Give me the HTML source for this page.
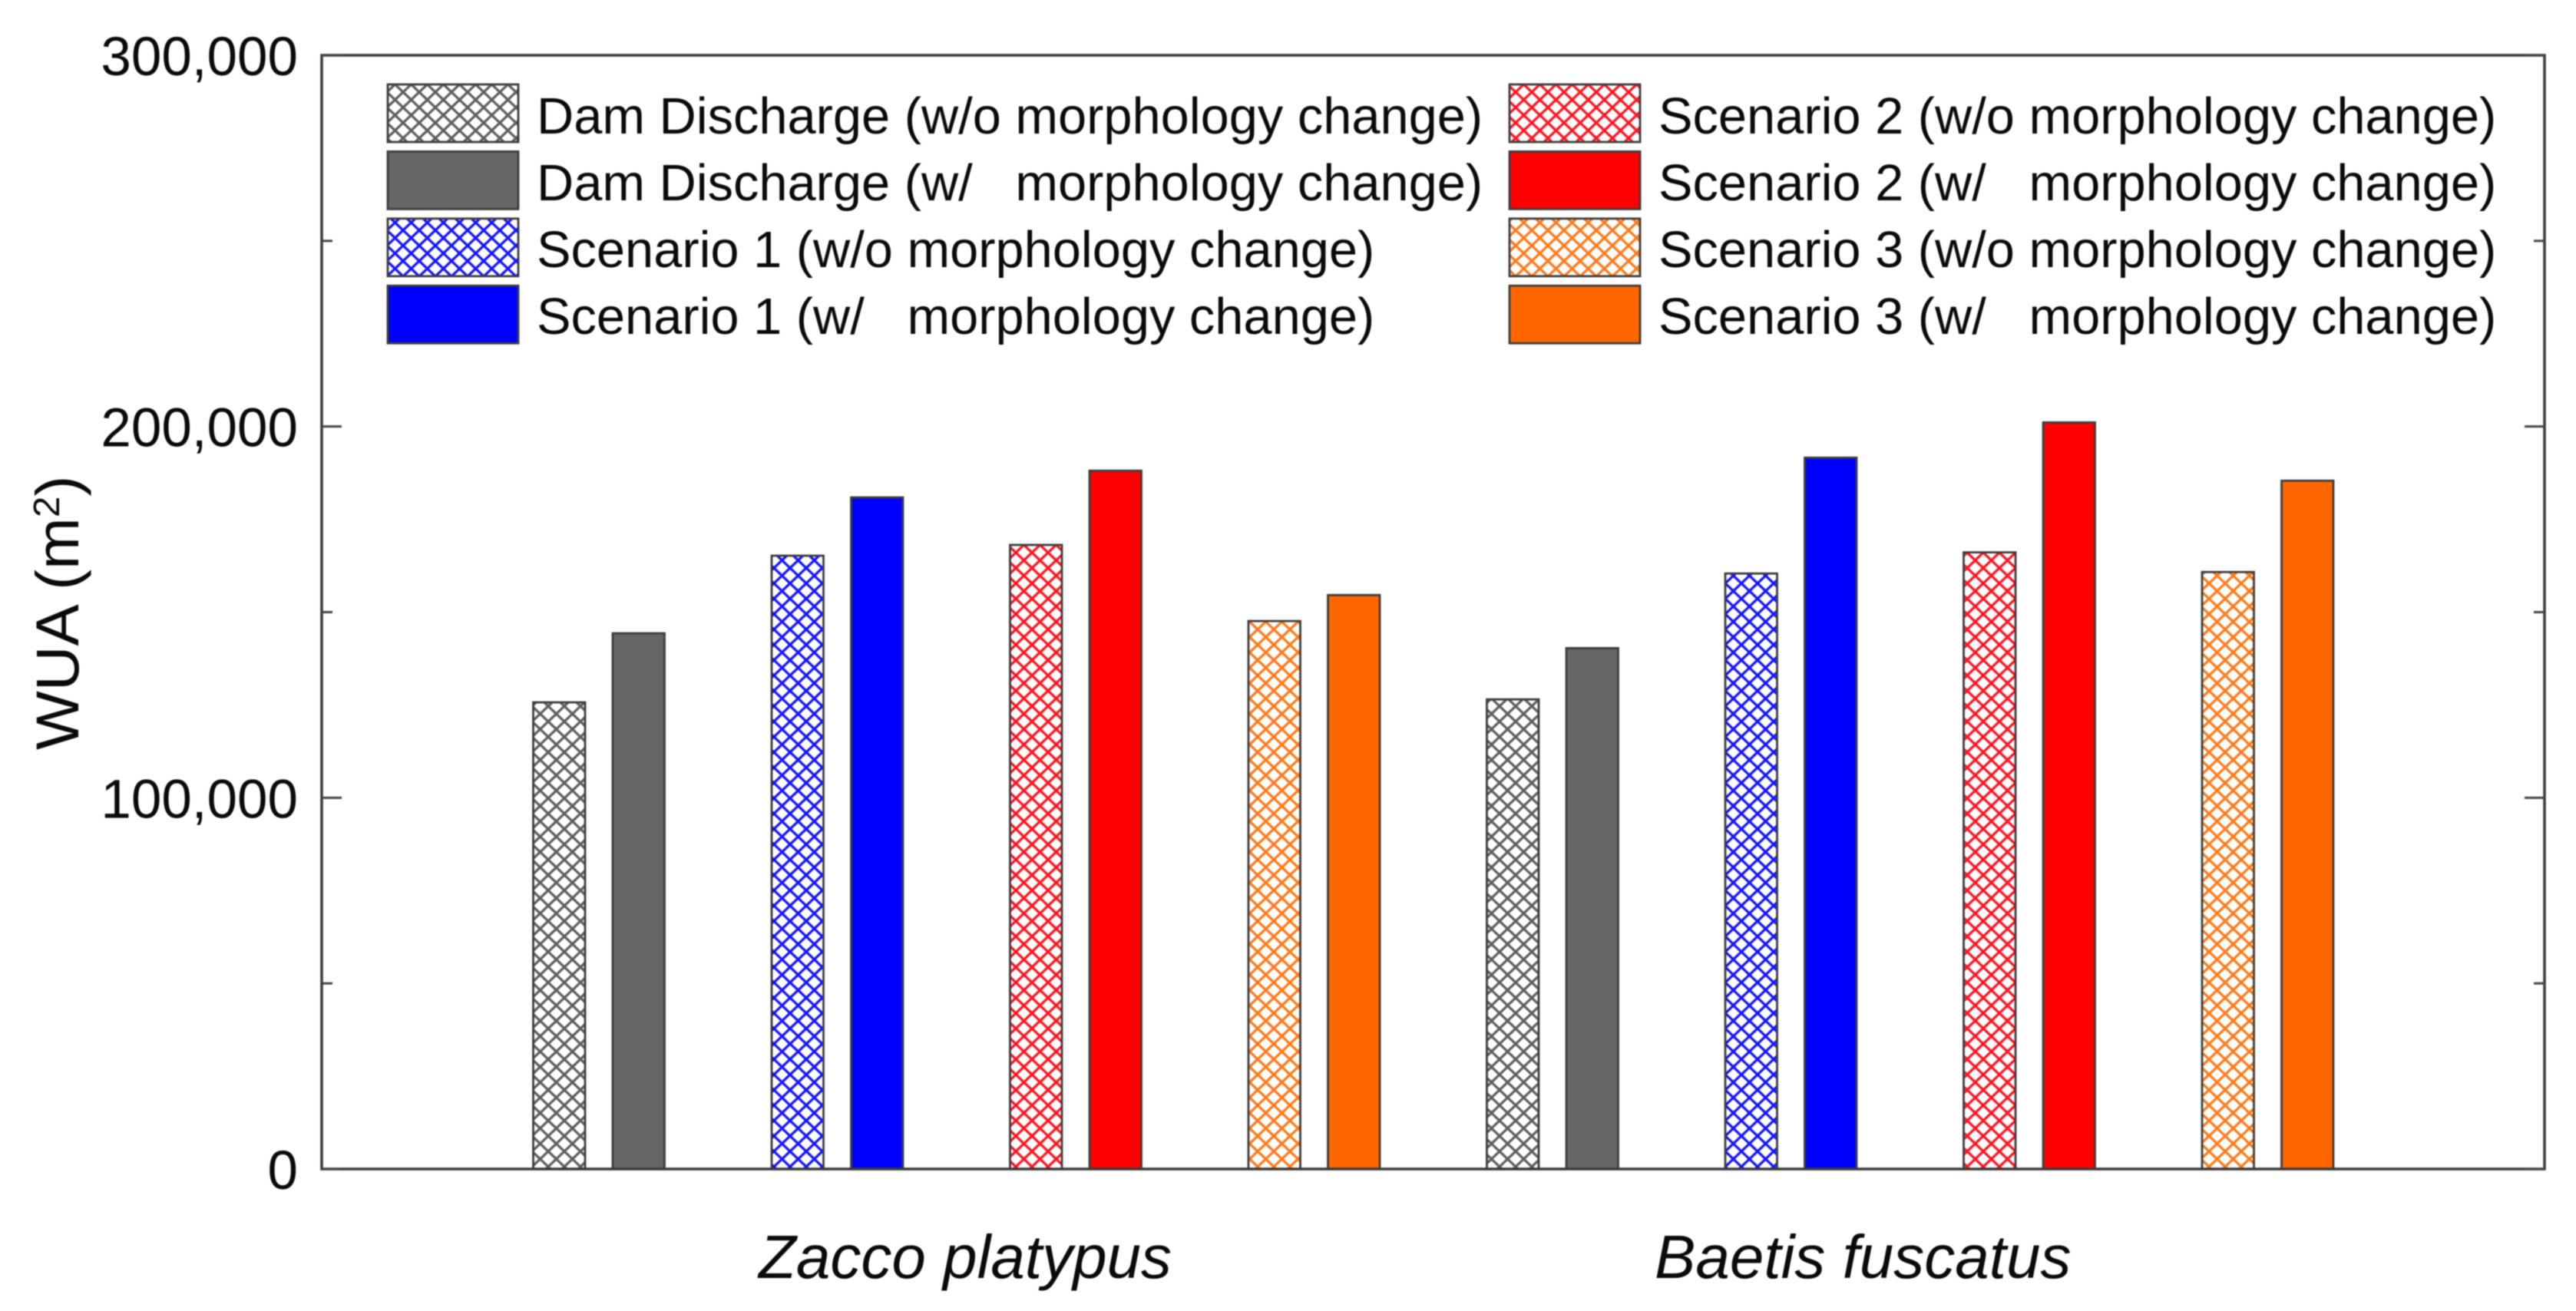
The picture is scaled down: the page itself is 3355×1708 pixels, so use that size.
<!DOCTYPE html>
<html lang="en">
<head>
<meta charset="utf-8">
<title>WUA by scenario</title>
<style>
html,body{margin:0;padding:0;background:#fff;width:3355px;height:1708px;overflow:hidden}
svg{display:block;filter:blur(0.9px)}
text{font-family:"Liberation Sans",Arial,sans-serif;fill:#0a0a0a;white-space:pre}
</style>
</head>
<body>
<svg id="chart" xmlns="http://www.w3.org/2000/svg" width="3355" height="1708" viewBox="0 0 3355 1708">
  <defs>
    <pattern id="hatch-gray" patternUnits="userSpaceOnUse" width="21" height="20"><rect width="21" height="20" fill="#fff"/><path d="M0 0L21 20M21 0L0 20" stroke="#5f5f5f" stroke-width="3.3"/></pattern>
    <pattern id="hatch-blue" patternUnits="userSpaceOnUse" width="21" height="20"><rect width="21" height="20" fill="#fff"/><path d="M0 0L21 20M21 0L0 20" stroke="#1414ff" stroke-width="3.3"/></pattern>
    <pattern id="hatch-red" patternUnits="userSpaceOnUse" width="21" height="20"><rect width="21" height="20" fill="#fff"/><path d="M0 0L21 20M21 0L0 20" stroke="#ff1420" stroke-width="3.3"/></pattern>
    <pattern id="hatch-orange" patternUnits="userSpaceOnUse" width="21" height="20"><rect width="21" height="20" fill="#fff"/><path d="M0 0L21 20M21 0L0 20" stroke="#ff7a1a" stroke-width="3.3"/></pattern>
  </defs>
  <rect width="3355" height="1708" fill="#fff"/>
  <g id="bars"></g>
  <g id="legend"></g>
  <rect x="419" y="72" width="2895" height="1451" fill="none" stroke="#3c3c3c" stroke-width="3.6"/>
  <g id="ticks"></g>
  <g id="tick-labels"></g>
  <text transform="translate(102,977) rotate(-90) scale(1.03,1)" font-size="79">WUA (m<tspan font-size="48" dy="-25">2</tspan><tspan dy="25">)</tspan></text>
  <text x="988" y="1665" font-size="80" font-style="italic">Zacco platypus</text>
  <text x="2155" y="1665" font-size="80" font-style="italic">Baetis fuscatus</text>
</svg>
<script>
// Chart data
const categories = ["Zacco platypus", "Baetis fuscatus"];
const damWithout = [125700, 126500];
const damWith = [144300, 140300];
const scenario1Without = [165200, 160400];
const scenario1With = [180900, 191600];
const scenario2Without = [168100, 166100];
const scenario2With = [188100, 201100];
const scenario3Without = [147600, 160800];
const scenario3With = [154600, 185400];
const seriesValues = [damWithout, damWith, scenario1Without, scenario1With, scenario2Without, scenario2With, scenario3Without, scenario3With];
const seriesNames = [
  "Dam Discharge (w/o morphology change)",
  "Dam Discharge (w/   morphology change)",
  "Scenario 1 (w/o morphology change)",
  "Scenario 1 (w/   morphology change)",
  "Scenario 2 (w/o morphology change)",
  "Scenario 2 (w/   morphology change)",
  "Scenario 3 (w/o morphology change)",
  "Scenario 3 (w/   morphology change)"
];
const seriesFills = ["url(#hatch-gray)", "#666666", "url(#hatch-blue)", "#0000ff", "url(#hatch-red)", "#ff0000", "url(#hatch-orange)", "#ff6600"];
const majorTicks = [0, 100000, 200000, 300000];
const minorTicks = [50000, 150000, 250000];
const tickLabels = ["0", "100,000", "200,000", "300,000"];

const NS = "http://www.w3.org/2000/svg";
const plotLeft = 419, plotRight = 3314, plotTop = 72, plotBottom = 1523, yMax = 300000;

function yScale(v) {
  return plotBottom - (v / yMax) * (plotBottom - plotTop);
}
function xScale(categoryIndex, seriesIndex) {
  const group = categoryIndex * 4 + Math.floor(seriesIndex / 2);
  return 694.5 + group * 310.5 + (seriesIndex % 2) * 103.5;
}
function make(tag, parent, attrs) {
  const el = document.createElementNS(NS, tag);
  Object.keys(attrs).forEach(function (k) { el.setAttribute(k, attrs[k]); });
  parent.appendChild(el);
  return el;
}
function slug(s) {
  return s.toLowerCase().replace(/[^a-z0-9]+/g, "-").replace(/^-|-$/g, "");
}

const barsGroup = document.getElementById("bars");
const legendGroup = document.getElementById("legend");
const ticksGroup = document.getElementById("ticks");
const labelsGroup = document.getElementById("tick-labels");
const barWidth = 67.5;

seriesValues.forEach(function (values, s) {
  values.forEach(function (v, c) {
    const y = yScale(v);
    const el = make("rect", barsGroup, {
      x: xScale(c, s), y: y, width: barWidth, height: plotBottom - y,
      fill: seriesFills[s], stroke: "#3c3c3c", "stroke-width": 2.8
    });
    
    
  });
});

seriesNames.forEach(function (name, i) {
  const col = i < 4 ? 0 : 1;
  const row = i % 4;
  const swatchX = col === 0 ? 505 : 1966;
  const swatchY = 110 + row * 87.4;
  const sw = make("rect", legendGroup, {
    x: swatchX, y: swatchY, width: 170, height: 75,
    fill: seriesFills[i], stroke: "#3c3c3c", "stroke-width": 2.8
  });
  
  
  const textX = col === 0 ? 699 : 2160;
  const baseline = 174 + row * 87;
  const t = make("text", legendGroup, {
    transform: "translate(" + textX + "," + baseline + ") scale(0.997,1)",
    "font-size": 67
  });
  t.textContent = name;
  
  
});

function drawTick(v, len, kind) {
  const y = yScale(v);
  const left = make("line", ticksGroup, { x1: plotLeft, x2: plotLeft + len, y1: y, y2: y, stroke: "#444", "stroke-width": 3 });
  
  
  const right = make("line", ticksGroup, { x1: plotRight, x2: plotRight - len, y1: y, y2: y, stroke: "#444", "stroke-width": 3 });
  
  
}
majorTicks.forEach(function (v) { drawTick(v, 26, 'major'); });
minorTicks.forEach(function (v) { drawTick(v, 14, 'minor'); });

majorTicks.forEach(function (v, i) {
  const t = make("text", labelsGroup, { x: 388, y: yScale(v) + 26, "text-anchor": "end", "font-size": 71 });
  t.textContent = tickLabels[i];
  
  
});
</script>
</body>
</html>
